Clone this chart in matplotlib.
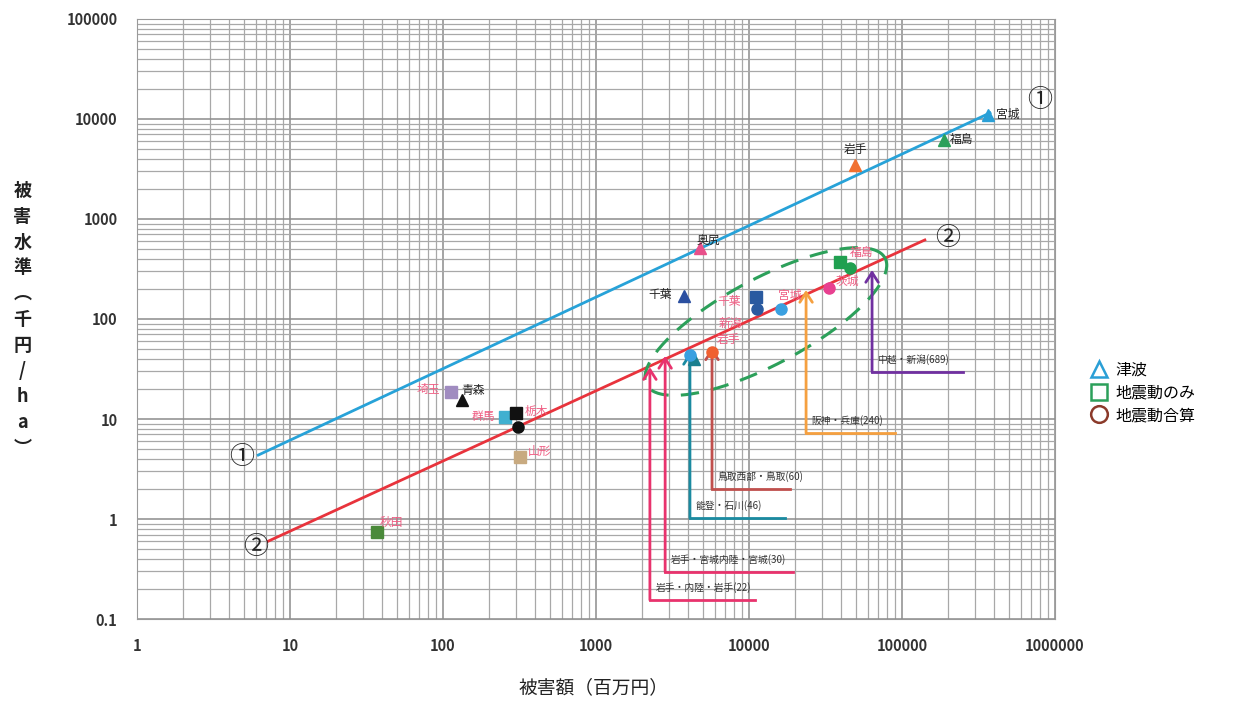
import numpy as np
import matplotlib
matplotlib.use('Agg')
import matplotlib.pyplot as plt
from matplotlib.lines import Line2D
from matplotlib.ticker import FixedLocator, FixedFormatter, LogLocator, NullFormatter

plt.rcParams['font.family'] = ['Noto Sans CJK JP', 'DejaVu Sans']

# --- data -------------------------------------------------------------
# 回帰線 ①（津波）, ②（地震動）
line1_x = [6.2, 376000]
line1_y = [4.36, 11500]
line2_x = [7.2, 141000]
line2_y = [0.60, 617]

# 津波（三角）
tsunami_names = ['宮城', '福島', '岩手', '奥尻', '千葉', '青森', '']
tsunami_x = [365000, 188000, 49500, 4800, 3760, 133, 4400]
tsunami_y = [11000, 6200, 3500, 510, 170, 15.5, 40]
tsunami_colors = ['#2a9fd6', '#2ca05a', '#f07030', '#e8508a', '#2b4fa0', '#111111', '#1a7f8f']

# 地震動のみ（四角）
shake_names = ['埼玉', '群馬', '栃木', '山形', '秋田', '千葉', '福島']
shake_x = [113, 254, 300, 318, 37, 11100, 39400]
shake_y = [18.6, 10.5, 11.5, 4.2, 0.74, 166, 372]
shake_colors = ['#a08cc0', '#40b0d0', '#111111', '#c8aa80', '#4a8a3a', '#2a5aa0', '#20a050']

# 地震動合算（丸）
total_names = ['', '', '宮城', '茨城', '', '', '岩手']
total_x = [307, 11200, 16200, 33300, 45700, 4100, 5740]
total_y = [8.3, 126, 126, 204, 324, 44, 47]
total_colors = ['#111111', '#2a5aa0', '#3aa0e0', '#e84090', '#20a050', '#3aa0e0', '#f06030']

# 地震名の引き出し線
quake_labels = ['岩手・内陸・岩手(22)', '岩手・宮城内陸・宮城(30)', '能登・石川(46)',
                '鳥取西部・鳥取(60)', '阪神・兵庫(240)', '中越・新潟(689)']
quake_x = [2250, 2830, 4110, 5730, 23600, 63700]
quake_top = [33, 42.7, 46.8, 52, 195, 309]
quake_bottom = [0.155, 0.295, 1.02, 2.0, 7.2, 29.5]
quake_right = [10900, 19400, 17200, 18500, 90000, 251000]
quake_colors = ['#e8336d', '#e8336d', '#1a8aa0', '#c0504d', '#f5a040', '#7030a0']

x_ticks = [1, 10, 100, 1000, 10000, 100000, 1000000]
x_ticklabels = ['1', '10', '100', '1000', '10000', '100000', '1000000']
y_ticks = [0.1, 1, 10, 100, 1000, 10000, 100000]
y_ticklabels = ['0.1', '1', '10', '100', '1000', '10000', '100000']

pink = '#ef5f84'

fig = plt.figure(figsize=(12.39, 7.02), dpi=100)
ax = fig.add_axes([0.1106, 0.1182, 0.7409, 0.8548])
ax.set_xscale('log')
ax.set_yscale('log')
ax.set_xlim(1, 1000000)
ax.set_ylim(0.1, 100000)

ax.xaxis.set_major_locator(FixedLocator(x_ticks))
ax.xaxis.set_major_formatter(FixedFormatter(x_ticklabels))
ax.yaxis.set_major_locator(FixedLocator(y_ticks))
ax.yaxis.set_major_formatter(FixedFormatter(y_ticklabels))
ax.xaxis.set_minor_locator(LogLocator(base=10, subs=np.arange(2, 10), numticks=20))
ax.yaxis.set_minor_locator(LogLocator(base=10, subs=np.arange(2, 10), numticks=20))
ax.xaxis.set_minor_formatter(NullFormatter())
ax.yaxis.set_minor_formatter(NullFormatter())
ax.grid(True, which='major', color='#8c8c8c', lw=1.1)
ax.grid(True, which='minor', color='#a8a8a8', lw=0.9)
ax.set_axisbelow(True)
ax.tick_params(which='both', length=0)
ax.tick_params(axis='x', pad=14, labelsize=10.5, labelcolor='#333333')
ax.tick_params(axis='y', pad=14, labelsize=10.5, labelcolor='#333333')
for lab in ax.get_xticklabels() + ax.get_yticklabels():
    lab.set_fontweight('bold')
for s in ax.spines.values():
    s.set_color('#9a9a9a')

# regression lines
ax.plot(line1_x, line1_y, color='#27a2d8', lw=2, zorder=3)
ax.plot(line2_x, line2_y, color='#e8333c', lw=2, zorder=3)
circ = dict(fontsize=18, ha='center', va='center', color='#222222', zorder=6)
ax.text(4.86, 4.17, '①', **circ)
ax.text(797000, 15500, '①', **circ)
ax.text(6.0, 0.525, '②', **circ)
ax.text(200000, 646, '②', **circ)

# dashed ellipse around the cluster
cx, cy = 4.11, 1.975          # log10 centre
a_px, b_px, ang = 135, 43, np.deg2rad(28)
t = np.linspace(0, 2 * np.pi, 200)
dpx = a_px * np.cos(t) * np.cos(ang) - b_px * np.sin(t) * np.sin(ang)
dpy = a_px * np.cos(t) * np.sin(ang) + b_px * np.sin(t) * np.cos(ang)
ax.plot(10 ** (cx + dpx / 153), 10 ** (cy + dpy / 100), color='#2ca05a', lw=2.2,
        dashes=(6, 4), zorder=4)

# quake arrows
for lab, x, top, bot, right, c in zip(quake_labels, quake_x, quake_top, quake_bottom,
                                      quake_right, quake_colors):
    ax.plot([x, right], [bot, bot], color=c, lw=2, zorder=4)
    ax.annotate('', xy=(x, top), xytext=(x, bot),
                arrowprops=dict(arrowstyle='->,head_length=0.7,head_width=0.45',
                                color=c, lw=2, shrinkA=0, shrinkB=0), zorder=4)
    ax.annotate(lab, xy=(x, bot), xytext=(4, 5), textcoords='offset points',
                fontsize=7, color='#333333', ha='left', va='bottom', zorder=5)

# markers
for x, y, c in zip(tsunami_x, tsunami_y, tsunami_colors):
    ax.plot(x, y, marker='^', ms=8, color=c, mec=c, ls='none', zorder=5)
for x, y, c in zip(shake_x, shake_y, shake_colors):
    ax.plot(x, y, marker='s', ms=8, color=c, mec=c, ls='none', zorder=5)
for x, y, c in zip(total_x, total_y, total_colors):
    ax.plot(x, y, marker='o', ms=8, color=c, mec=c, ls='none', zorder=5)

# labels
tsunami_off = [(6, 0, 'left'), (4, 0, 'left'), (0, 11, 'center'), (6, 5, 'center'),
               (-9, 1, 'right'), (8, 7, 'center'), (0, 0, 'center')]
for n, x, y, (dx, dy, ha) in zip(tsunami_names, tsunami_x, tsunami_y, tsunami_off):
    if n:
        ax.annotate(n, xy=(x, y), xytext=(dx, dy), textcoords='offset points',
                    fontsize=8.5, color='#222222', ha=ha, va='center', zorder=6)
shake_off = [(-8, 2, 'right'), (-7, 0, 'right'), (6, 1, 'left'), (6, 4, 'left'),
             (2, 7, 'left'), (-11, -3, 'right'), (7, 7, 'left')]
for n, x, y, (dx, dy, ha) in zip(shake_names, shake_x, shake_y, shake_off):
    ax.annotate(n, xy=(x, y), xytext=(dx, dy), textcoords='offset points',
                fontsize=8.5, color=pink, ha=ha, va='center', zorder=6)
total_off = [(0, 0, 'center'), (0, 0, 'center'), (6, 10, 'center'), (5, 5, 'left'),
             (0, 0, 'center'), (0, 0, 'center'), (12, 9, 'center')]
for n, x, y, (dx, dy, ha) in zip(total_names, total_x, total_y, total_off):
    if n:
        ax.annotate(n, xy=(x, y), xytext=(dx, dy), textcoords='offset points',
                    fontsize=8.5, color=pink, ha=ha, va='center', zorder=6)
ax.text(7500, 91, '新潟', fontsize=8.5, color=pink, ha='center', va='center', zorder=6)

# axis titles
fig.text(0.479, 0.006, '被害額（百万円）', fontsize=13.5, ha='center', va='bottom',
         color='#222222')
fig.text(0.018, 0.545, '\n'.join('被害水準︵千円/ha︶'), fontsize=13, ha='center',
         va='center', linespacing=1.45, color='#222222', fontweight='bold')

# legend
handles = [
    Line2D([], [], marker='^', ls='none', ms=12, mfc='none', mec='#2a9fd6', mew=1.8),
    Line2D([], [], marker='s', ls='none', ms=12, mfc='none', mec='#2ca05a', mew=1.8),
    Line2D([], [], marker='o', ls='none', ms=12, mfc='none', mec='#8b3a2a', mew=1.8),
]
fig.legend(handles, ['津波', '地震動のみ', '地震動合算'], loc='upper left',
           bbox_to_anchor=(0.868, 0.505), frameon=False, fontsize=11.5,
           handletextpad=0.4, labelspacing=0.35, handlelength=1.2)

fig.savefig('out.png', dpi=100)
